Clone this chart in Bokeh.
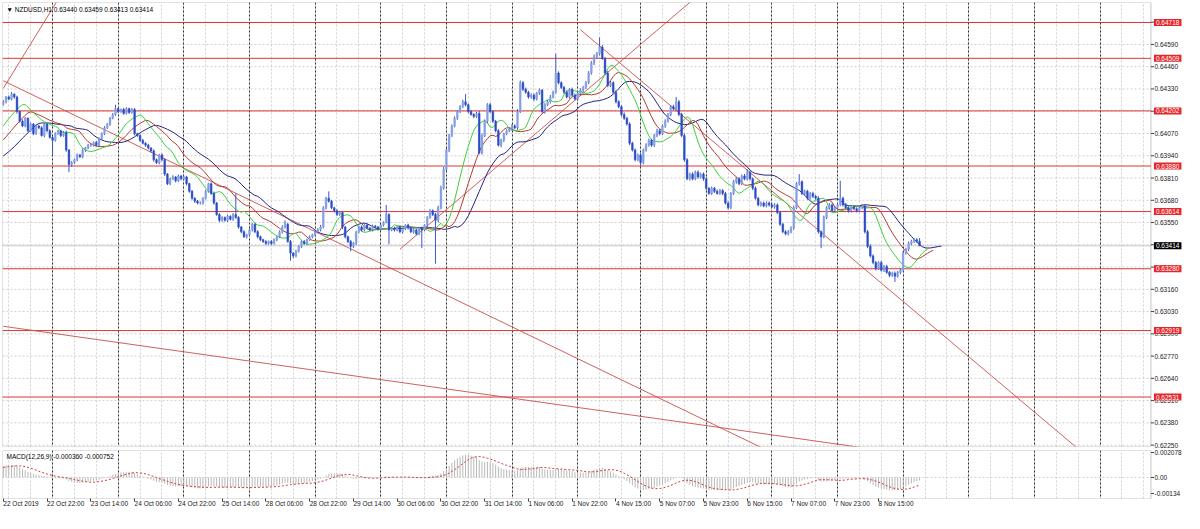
import numpy as np
from bokeh.plotting import figure
from bokeh.layouts import column
from bokeh.models import Range1d, FixedTicker, Label, Grid, BoxAnnotation
from bokeh.embed import file_html
from bokeh.resources import INLINE

# ---------------- data (prices in points = price * 100000) ----------------
header_text = "\u25BC NZDUSD,H1 0.63440 0.63459 0.63413 0.63414"
macd_text = "MACD(12,26,9) -0.000360 -0.000752"

history_close = [
    63580, 63595, 63570, 63600, 63615, 63590, 63610, 63625, 63605, 63630, 63620, 63645, 63640, 63660, 63650,
    63670, 63690, 63680, 63705, 63720, 63710, 63735, 63750, 63745, 63770, 63785, 63775, 63800, 63815, 63810,
    63835, 63850, 63845, 63870, 63880, 63875, 63900, 63915, 63905, 63925, 63940, 63935, 63960, 63970, 63965,
    63985, 63995, 63990, 64010, 64030, 64045, 64060, 64075, 64095, 64120, 64145, 64175, 64200, 64225, 64240]

close_pts = [
    64255, 64283, 64271, 64300, 64283, 64198, 64142, 64114, 64159, 64086, 64125, 64069, 64114, 64103, 64058, 64125, 64086, 64047, 64030, 64069, 64086, 64058, 64075, 63973,
    63889, 63900, 63917, 63945, 63934, 63973, 63985, 64002, 64002, 64018, 64002, 64041, 64069, 64103, 64125, 64159, 64181, 64215, 64198, 64210, 64187, 64215, 64193, 64210,
    64069, 64058, 64030, 64013, 64002, 63985, 63968, 63917, 63900, 63945, 63917, 63833, 63777, 63805, 63816, 63794, 63822, 63805, 63816, 63777, 63732, 63692, 63675, 63664,
    63664, 63692, 63732, 63777, 63720, 63664, 63597, 63563, 63580, 63563, 63586, 63569, 63597, 63580, 63524, 63496, 63467, 63479, 63507, 63540, 63496, 63467, 63450, 63439,
    63428, 63439, 63428, 63450, 63467, 63496, 63524, 63540, 63439, 63372, 63355, 63383, 63411, 63439, 63428, 63450, 63467, 63479, 63496, 63507, 63524, 63636, 63692, 63675,
    63636, 63619, 63597, 63608, 63524, 63467, 63439, 63411, 63428, 63496, 63524, 63507, 63535, 63518, 63507, 63529, 63524, 63512, 63535, 63552, 63597, 63507, 63518, 63507,
    63524, 63496, 63512, 63535, 63518, 63496, 63507, 63484, 63518, 63507, 63535, 63580, 63619, 63597, 63563, 63636, 63750, 63861, 63973, 64058, 64114, 64159, 64198, 64226,
    64255, 64238, 64198, 64181, 64170, 64187, 63957, 64058, 64142, 64238, 64198, 64142, 64086, 64002, 64030, 64069, 64086, 64097, 64114, 64103, 64198, 64367, 64328, 64311,
    64283, 64294, 64271, 64305, 64322, 64198, 64238, 64255, 64283, 64311, 64423, 64367, 64339, 64311, 64283, 64328, 64294, 64271, 64305, 64322, 64339, 64367, 64423, 64480,
    64519, 64536, 64575, 64508, 64423, 64350, 64367, 64311, 64255, 64226, 64181, 64159, 64125, 64013, 63973, 63917, 63945, 63900, 63973, 64002, 64030, 64002, 64058, 64086,
    64069, 64114, 64142, 64181, 64226, 64215, 64255, 64181, 64058, 63917, 63805, 63833, 63805, 63844, 63816, 63833, 63805, 63750, 63720, 63750, 63732, 63720, 63737, 63720,
    63664, 63636, 63720, 63788, 63805, 63777, 63822, 63805, 63844, 63805, 63750, 63692, 63653, 63664, 63647, 63664, 63653, 63642, 63653, 63608, 63540, 63496, 63484, 63496,
    63518, 63636, 63777, 63788, 63720, 63732, 63692, 63720, 63703, 63692, 63496, 63467, 63580, 63636, 63653, 63619, 63636, 63653, 63692, 63653, 63636, 63619, 63642, 63630,
    63619, 63636, 63647, 63496, 63411, 63355, 63316, 63282, 63316, 63271, 63293, 63259, 63242, 63254, 63237, 63259, 63271, 63372, 63394, 63428, 63439, 63450, 63440, 63414]

up_wick = [
    10, 6, 9, 12, 5, 8, 6, 10, 7, 5, 9, 6, 8, 7, 10, 5, 6, 9, 7, 8, 6, 5, 9, 12,
    7, 9, 6, 8, 5, 10, 6, 7, 9, 5, 8, 6, 7, 10, 6, 8, 9, 12, 7, 6, 10, 8, 6, 9,
    8, 5, 7, 9, 6, 8, 5, 10, 7, 6, 9, 8, 6, 7, 10, 5, 8, 6, 9, 7, 5, 8, 6, 7,
    9, 6, 8, 5, 7, 10, 6, 8, 7, 5, 9, 6, 8, 10, 7, 6, 9, 5, 8, 7, 6, 9, 7, 5,
    8, 6, 9, 7, 5, 8, 10, 6, 7, 9, 5, 8, 6, 7, 9, 6, 8, 5, 7, 10, 12, 9, 8, 10,
    7, 6, 9, 8, 5, 7, 6, 9, 8, 6, 7, 10, 5, 8, 6, 9, 7, 6, 8, 5, 9, 7, 6, 8,
    6, 9, 7, 5, 8, 6, 9, 7, 6, 8, 5, 7, 9, 8, 10, 12, 15, 14, 12, 10, 9, 11, 8, 10,
    12, 9, 8, 10, 7, 9, 14, 12, 10, 9, 11, 8, 7, 10, 9, 6, 8, 7, 12, 10, 14, 12, 9, 10,
    8, 10, 9, 7, 11, 8, 9, 10, 12, 9, 14, 10, 8, 9, 11, 7, 10, 9, 8, 12, 9, 10, 11, 13,
    12, 10, 14, 11, 9, 12, 10, 8, 11, 9, 10, 12, 8, 11, 9, 10, 8, 12, 9, 11, 10, 8, 9, 12,
    10, 9, 11, 8, 10, 12, 9, 11, 10, 12, 9, 8, 10, 9, 11, 8, 10, 9, 7, 10, 8, 11, 9, 8,
    9, 10, 8, 11, 9, 10, 8, 12, 10, 9, 8, 10, 7, 9, 8, 10, 9, 8, 10, 9, 11, 8, 9, 10,
    10, 12, 9, 11, 8, 10, 9, 8, 10, 9, 12, 8, 10, 9, 11, 8, 9, 10, 8, 9, 11, 8, 10, 9,
    9, 8, 10, 9, 11, 12, 9, 10, 8, 11, 9, 10, 8, 9, 10, 8, 12, 10, 9, 11, 10, 8, 9, 10]

dn_wick = [
    7, 9, 6, 8, 10, 12, 9, 7, 8, 10, 6, 9, 7, 8, 6, 10, 9, 7, 20, 8, 6, 9, 7, 10,
    12, 14, 8, 9, 7, 8, 10, 6, 9, 8, 7, 9, 6, 8, 7, 10, 6, 8, 9, 7, 8, 6, 9, 7,
    10, 8, 9, 7, 10, 8, 9, 12, 8, 10, 9, 11, 8, 9, 7, 10, 8, 9, 7, 10, 8, 9, 11, 8,
    9, 10, 8, 7, 9, 10, 8, 11, 9, 8, 10, 7, 9, 8, 10, 9, 8, 10, 7, 9, 8, 10, 9, 8,
    9, 8, 10, 7, 9, 8, 10, 9, 7, 12, 14, 9, 8, 10, 9, 8, 7, 9, 10, 8, 9, 8, 10, 9,
    8, 10, 9, 8, 12, 10, 9, 14, 10, 9, 8, 10, 9, 8, 7, 9, 8, 10, 9, 8, 7, 9, 8, 10,
    9, 8, 10, 7, 9, 8, 10, 9, 8, 10, 9, 12, 8, 9, 10, 12, 9, 8, 10, 12, 9, 8, 10, 9,
    8, 10, 9, 7, 11, 9, 8, 10, 9, 12, 8, 10, 9, 8, 12, 10, 9, 8, 10, 9, 11, 8, 10, 9,
    10, 9, 11, 8, 10, 9, 12, 8, 10, 9, 8, 10, 9, 11, 8, 10, 9, 8, 10, 9, 11, 10, 8, 9,
    10, 9, 11, 8, 12, 10, 9, 11, 10, 9, 12, 10, 9, 11, 8, 10, 9, 12, 10, 9, 8, 10, 11, 9,
    10, 9, 11, 8, 10, 9, 12, 10, 9, 11, 8, 10, 9, 8, 10, 9, 11, 10, 8, 9, 10, 8, 9, 11,
    9, 10, 8, 9, 11, 10, 9, 8, 10, 9, 11, 8, 9, 10, 8, 9, 10, 8, 11, 9, 10, 8, 9, 10,
    9, 10, 8, 11, 9, 10, 9, 8, 10, 9, 11, 12, 9, 10, 8, 9, 10, 9, 8, 10, 9, 11, 10, 9,
    10, 9, 8, 10, 11, 9, 10, 12, 9, 8, 10, 9, 11, 10, 12, 9, 10, 8, 9, 11, 10, 9, 8, 10]

high_fix = {41: 64238, 85: 63720, 103: 63563, 119: 63732, 140: 63653, 169: 64300, 202: 64536,
            218: 64631, 246: 64283, 272: 63861, 291: 63833, 306: 63794, 335: 63459}
low_fix = {18: 63945, 24: 63844, 105: 63327, 127: 63383, 141: 63422, 153: 63400, 158: 63310,
           233: 63878, 299: 63400, 326: 63203, 335: 63413}

levels = [0.64718, 0.64509, 0.64202, 0.63880, 0.63614, 0.63280, 0.62919, 0.62531]
last_price = 0.63414
price_ticks = [0.62250, 0.62380, 0.62510, 0.62640, 0.62770, 0.62900, 0.63030, 0.63160, 0.63290, 0.63420,
               0.63550, 0.63680, 0.63810, 0.63940, 0.64070, 0.64200, 0.64330, 0.64460, 0.64590, 0.64720]
macd_ticks = [-0.00134, 0.0, 0.002078]
macd_tick_labels = ["-0.00134", "0.00", "0.002078"]

time_label_bars = [0, 16, 32, 48, 64, 80, 96, 112, 128, 144, 160, 176, 192, 208, 224, 240, 256, 272, 288, 304, 320]
time_labels = ["22 Oct 2019", "22 Oct 22:00", "23 Oct 14:00", "24 Oct 06:00", "24 Oct 22:00", "25 Oct 14:00",
               "28 Oct 06:00", "28 Oct 22:00", "29 Oct 14:00", "30 Oct 06:00", "30 Oct 22:00", "31 Oct 14:00",
               "1 Nov 06:00", "1 Nov 22:00", "4 Nov 15:00", "5 Nov 07:00", "5 Nov 23:00", "6 Nov 15:00",
               "7 Nov 07:00", "7 Nov 23:00", "8 Nov 15:00"]
day_start_bars = [18, 42, 66, 90, 114, 138, 162, 186, 210, 233, 257, 281, 305, 329, 353, 377, 401]

# trend lines: (bar, price) anchor pairs
tl_x0 = [0, 0, 0, 211, 145]
tl_y0 = [0.64334, 0.64378, 0.62944, 0.64676, 0.63394]
tl_x1 = [22, 280, 320, 395, 252]
tl_y1 = [0.64904, 0.62214, 0.62222, 0.62201, 0.64849]

# ---------------- derived series ----------------
n = len(close_pts)
bars = np.arange(n)
close = np.array(close_pts) / 1e5
hist = np.array(history_close) / 1e5
open_ = np.r_[hist[-1], close[:-1]]
top_body = np.maximum(open_, close)
bot_body = np.minimum(open_, close)
high = top_body + np.array(up_wick) / 1e5
low = bot_body - np.array(dn_wick) / 1e5
for k, v in high_fix.items():
    high[k] = max(v / 1e5, top_body[k])
for k, v in low_fix.items():
    low[k] = min(v / 1e5, bot_body[k])


def smma(src, p):
    out = np.full(len(src), np.nan)
    out[p - 1] = src[:p].mean()
    for i in range(p, len(src)):
        out[i] = (out[i - 1] * (p - 1) + src[i]) / p
    return out


def ema(src, p):
    a = 2.0 / (p + 1)
    out = np.empty(len(src))
    out[0] = src[0]
    for i in range(1, len(src)):
        out[i] = a * src[i] + (1 - a) * out[i - 1]
    return out


H = len(hist)
median_full = np.r_[hist, (high + low) / 2]
close_full = np.r_[hist, close]
jaw = smma(median_full, 13)
teeth = smma(median_full, 8)
lips = smma(median_full, 5)

macd_full = ema(close_full, 12) - ema(close_full, 26)
signal_full = np.convolve(macd_full, np.ones(9) / 9, mode="full")[:len(macd_full)]
macd_v = macd_full[H:]
signal_v = signal_full[H:]

grid_bars = sorted(set([2, 10] + [d + 8 * k for d in day_start_bars for k in range(3)]))

# ---------------- geometry / style ----------------
FONT = "Liberation Sans"
FS = "6.5px"
X0, CHART_END, X1 = -0.3, 419.6, 431.5       # chart area, then the price-scale column
Y0, Y1 = 0.62242, 0.64835
M0, M1 = -0.00176, 0.002245
TICK_LEN = 1.1                                # price-scale tick length in bar units
BORDER = "#404040"
GRID = "#d0d0d0"
SEP = "#303030"


def style_price_axis(a, ticks, labels):
    a.ticker = FixedTicker(ticks=ticks)
    a.major_label_overrides = dict(zip(ticks, labels))
    a.major_label_text_font = FONT
    a.major_label_text_font_size = FS
    a.major_label_text_color = "#202020"
    a.major_tick_in = 0
    a.major_tick_out = 0
    a.minor_tick_in = 0
    a.minor_tick_out = 0
    a.major_label_standoff = -29
    a.axis_line_color = None


def box_label(fig, y, txt, bg):
    kw = dict(x=CHART_END, y=y, x_offset=3, text=txt, text_font=FONT, text_font_size=FS,
              text_color="white", text_baseline="middle", text_align="left",
              background_fill_color=bg)
    try:
        lab = Label(padding=(2, 1), **kw)
    except Exception:
        lab = Label(**kw)
    fig.add_layout(lab)


xr = Range1d(X0, X1)

# ---------------- main price panel ----------------
p = figure(width=1184, height=449, x_range=xr, y_range=Range1d(Y0, Y1),
           output_backend="svg", toolbar_location=None, x_axis_location=None,
           y_axis_location="right", min_border_left=2, min_border_right=1,
           min_border_top=2, min_border_bottom=3)
p.outline_line_color = None
p.grid.visible = False
p.add_layout(Grid(dimension=0, ticker=FixedTicker(ticks=grid_bars), grid_line_color=GRID,
                  grid_line_dash="2 2"))
p.segment(x0=X0, y0=price_ticks, x1=CHART_END, y1=price_ticks, line_color=GRID, line_dash="2 2")
p.vspan(x=day_start_bars, line_color=SEP, line_dash="2 2", line_width=1)

style_price_axis(p.yaxis[0], price_ticks, [f"{t:.5f}" for t in price_ticks])
p.segment(x0=CHART_END, y0=price_ticks, x1=CHART_END + TICK_LEN, y1=price_ticks, line_color=BORDER)

# levels and current price line
p.segment(x0=X0, y0=levels, x1=CHART_END, y1=levels, line_color="#dd3535", line_width=1)
p.segment(x0=X0, y0=last_price, x1=CHART_END, y1=last_price, line_color="#c8c8c8", line_width=1)

# trend lines
p.segment(x0=tl_x0, y0=tl_y0, x1=tl_x1, y1=tl_y1, line_color="#c9504c", line_width=1, line_alpha=0.9)

# alligator
p.line(np.arange(n + 8), jaw[H - 8:H + n], line_color="#23237e", line_width=1)
p.line(np.arange(n + 5), teeth[H - 5:H + n], line_color="#b33a2e", line_width=1)
p.line(np.arange(n + 3), lips[H - 3:H + n], line_color="#3ccf3c", line_width=1)

# candles
inc = close >= open_
dec = ~inc
p.segment(x0=bars, y0=low, x1=bars, y1=high, line_color="#3a58c8", line_width=1)
p.vbar(x=bars[inc], bottom=open_[inc], top=close[inc], width=0.62,
       fill_color="#86a0e2", line_color="#86a0e2", line_width=0.5)
p.vbar(x=bars[dec], bottom=close[dec], top=open_[dec], width=0.62,
       fill_color="#2c4cc2", line_color="#2c4cc2", line_width=0.5)

p.add_layout(BoxAnnotation(left=X0, right=CHART_END, bottom=Y0, top=Y1, fill_alpha=0,
                           line_color=BORDER, line_width=1))

for lv in levels:
    box_label(p, lv, f"{lv:.5f}", "#e5262a")
box_label(p, last_price, f"{last_price:.5f}", "#000000")
p.add_layout(Label(x=X0, y=Y1, x_offset=4, y_offset=-3, text=header_text, text_font=FONT,
                   text_font_size=FS, text_color="#000000", text_baseline="top"))

# ---------------- MACD panel ----------------
q = figure(width=1184, height=64, x_range=xr, y_range=Range1d(M0, M1),
           output_backend="svg", toolbar_location=None, x_axis_location="below",
           y_axis_location="right", min_border_left=2, min_border_right=1,
           min_border_top=1, min_border_bottom=15)
q.outline_line_color = None
q.grid.visible = False
q.add_layout(Grid(dimension=0, ticker=FixedTicker(ticks=grid_bars), grid_line_color=GRID,
                  grid_line_dash="2 2"))
q.segment(x0=X0, y0=0.0, x1=CHART_END, y1=0.0, line_color=GRID, line_dash="2 2")
q.vspan(x=day_start_bars, line_color=SEP, line_dash="2 2", line_width=1)
q.segment(x0=bars, y0=np.zeros(n), x1=bars, y1=macd_v, line_color="#b8b8b8", line_width=1)
q.line(bars, signal_v, line_color="#cc3b3b", line_dash="2 2", line_width=1)
q.add_layout(BoxAnnotation(left=X0, right=CHART_END, bottom=M0, top=M1, fill_alpha=0,
                           line_color=BORDER, line_width=1))
q.add_layout(Label(x=X0, y=M1, x_offset=4, y_offset=-2, text=macd_text, text_font=FONT,
                   text_font_size=FS, text_color="#000000", text_baseline="top"))

style_price_axis(q.yaxis[0], macd_ticks, macd_tick_labels)
q.segment(x0=CHART_END, y0=macd_ticks, x1=CHART_END + TICK_LEN, y1=macd_ticks, line_color=BORDER)

xa = q.xaxis[0]
xa.ticker = FixedTicker(ticks=time_label_bars)
xa.major_label_overrides = dict(zip(time_label_bars, time_labels))
xa.major_label_orientation = -1e-4          # practically level, but anchored at its left end
xa.major_label_text_font = FONT
xa.major_label_text_font_size = FS
xa.major_label_text_color = "#202020"
xa.major_tick_in = 0
xa.major_tick_out = 3
xa.minor_tick_in = 0
xa.minor_tick_out = 0
xa.major_label_standoff = 2
xa.axis_line_color = None
xa.major_tick_line_color = BORDER

layout = column(p, q, spacing=0)
open("out.html", "w").write(file_html(layout, INLINE))
